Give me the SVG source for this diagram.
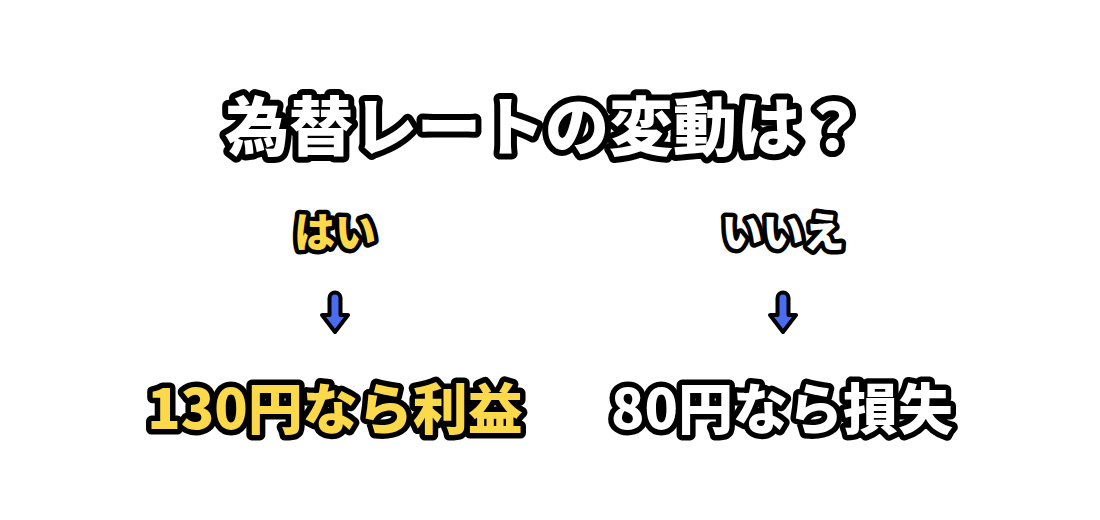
<svg xmlns="http://www.w3.org/2000/svg" width="1100" height="520" viewBox="0 0 1100 520">
<defs>
<style>
.t{font-family:"Noto Sans CJK JP","Noto Sans",sans-serif;font-weight:900;text-anchor:middle;stroke:#000;stroke-linejoin:round;paint-order:stroke fill}
.w{fill:#fff}
.y{fill:#fcd94a}
.arr{fill:#4a6cf0;stroke:#000;stroke-width:4;stroke-linejoin:round}
</style>
<path id="arrow" d="M-5.5,0 L-5.5,-17 A5.5,5.5 0 0 1 5.5,-17 L5.5,0 L13,0 L0,17 L-13,0 Z"/>
</defs>
<rect width="1100" height="520" fill="#fff"/>
<g id="title"><text class="t w" x="545" y="150" font-size="64" stroke-width="12">為替レートの変動は？</text></g>
<g id="yes"><text class="t y" x="335" y="247" font-size="41" stroke-width="9">はい</text></g>
<g id="no"><text class="t w" x="783" y="247" font-size="41" stroke-width="9">いいえ</text></g>
<g id="connectors">
<use href="#arrow" class="arr" x="335" y="315"/>
<use href="#arrow" class="arr" x="783" y="315"/>
</g>
<g id="profit"><text class="t y" x="335" y="429" font-size="55" stroke-width="11">130円なら利益</text></g>
<g id="loss"><text class="t w" x="782" y="429" font-size="55" stroke-width="11">80円なら損失</text></g>
</svg>
